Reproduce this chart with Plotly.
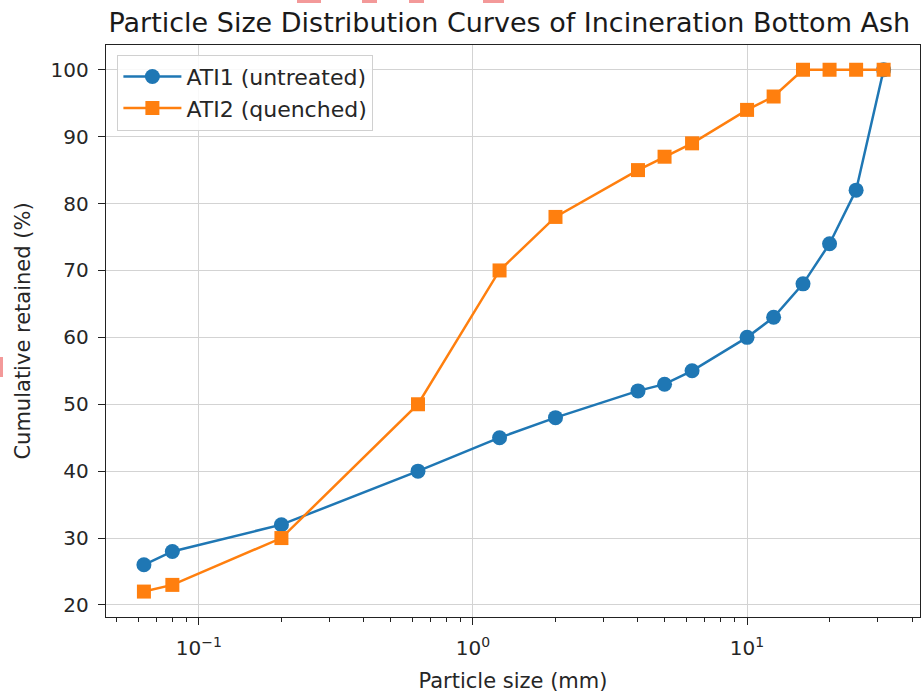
import plotly.graph_objects as go

sizes_mm = [0.063, 0.08, 0.2, 0.63, 1.25, 2, 4, 5, 6.3, 10, 12.5, 16, 20, 25, 31.5]
ati1 = [26, 28, 32, 40, 45, 48, 52, 53, 55, 60, 63, 68, 74, 82, 100]
ati2 = [22, 23, 30, 50, 70, 78, 85, 87, 89, 94, 96, 100, 100, 100, 100]
x_major = [0.1, 1, 10]
x_major_text = ["10<sup>−1</sup>", "10<sup>0</sup>", "10<sup>1</sup>"]
x_minor = [0.05, 0.06, 0.07, 0.08, 0.09, 0.2, 0.3, 0.4, 0.5, 0.6, 0.7, 0.8, 0.9,
           2, 3, 4, 5, 6, 7, 8, 9, 20, 30, 40]
y_ticks = [20, 30, 40, 50, 60, 70, 80, 90, 100]

font = "DejaVu Sans, Verdana, sans-serif"

fig = go.Figure()
fig.add_trace(go.Scatter(x=sizes_mm, y=ati1, mode="lines+markers", name="ATI1 (untreated)",
                         line=dict(color="#1f77b4", width=2.5),
                         marker=dict(symbol="circle", size=15, color="#1f77b4")))
fig.add_trace(go.Scatter(x=sizes_mm, y=ati2, mode="lines+markers", name="ATI2 (quenched)",
                         line=dict(color="#ff7f0e", width=2.5),
                         marker=dict(symbol="square", size=14, color="#ff7f0e")))

fig.update_layout(
    width=921, height=693,
    margin=dict(l=106, r=1, t=45, b=76),
    paper_bgcolor="white", plot_bgcolor="white",
    font=dict(family=font, size=20, color="#262626"),
    title=dict(text="Particle Size Distribution Curves of Incineration Bottom Ash",
               x=0.553, xanchor="center", y=0.968, yanchor="middle",
               font=dict(size=27, color="#1a1a1a")),
    legend=dict(x=0.014, y=0.983, xanchor="left", yanchor="top",
                bgcolor="rgba(255,255,255,0.85)", bordercolor="#d0d0d0", borderwidth=1,
                font=dict(size=22, color="#262626"), itemwidth=58),
    showlegend=True,
)
fig.update_xaxes(type="log", range=[-1.339, 1.631],
                 tickmode="array", tickvals=x_major, ticktext=x_major_text,
                 ticks="outside", ticklen=7, tickwidth=1.4, tickcolor="#222",
                 ticklabelstandoff=6,
                 showgrid=True, gridcolor="#d3d3d3", gridwidth=1.4,
                 showline=True, linecolor="#222", linewidth=1.4, mirror=True,
                 zeroline=False,
                 minor=dict(tickvals=x_minor, ticks="outside", ticklen=4, tickcolor="#222", showgrid=False),
                 title=dict(text="Particle size (mm)", font=dict(size=21), standoff=14),
                 tickfont=dict(size=20))
fig.update_yaxes(range=[18.2, 103.7], tickmode="array", tickvals=y_ticks,
                 ticks="outside", ticklen=7, tickwidth=1.4, tickcolor="#222",
                 ticklabelstandoff=5,
                 showgrid=True, gridcolor="#d3d3d3", gridwidth=1.4,
                 showline=True, linecolor="#222", linewidth=1.4, mirror=True,
                 zeroline=False,
                 title=dict(text="Cumulative retained (%)", font=dict(size=21), standoff=14),
                 tickfont=dict(size=20))

# small red artifacts at the edges of the original screenshot
for (x0, x1, y0, y1) in [(297, 321, 0, 3), (362, 377, 0, 3), (409, 424, 0, 3), (483, 504, 0, 3), (0, 3, 357, 377)]:
    fig.add_shape(type="rect", xref="paper", yref="paper",
                  x0=(x0 - 106) / 814, x1=(x1 - 106) / 814,
                  y0=(693 - 76 - y1) / 572, y1=(693 - 76 - y0) / 572,
                  fillcolor="#f08080", line=dict(width=0), opacity=0.8, layer="above")

fig.write_html("out.html")
